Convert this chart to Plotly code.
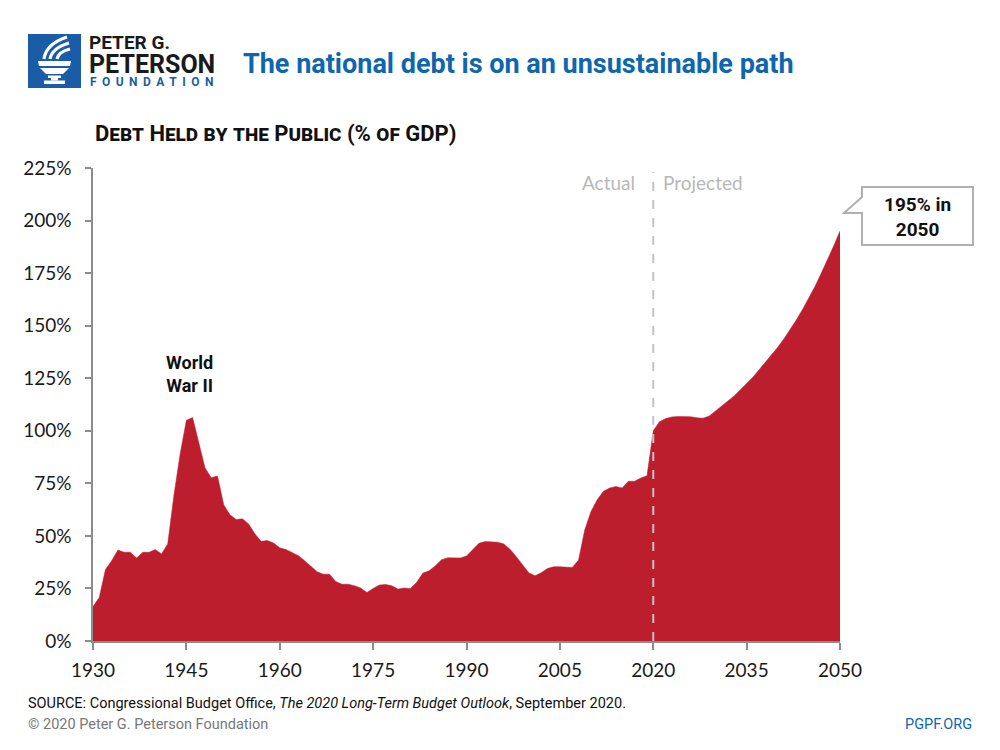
import plotly.graph_objects as go

# ---------------- data ----------------
years = list(range(1930, 2051))
debt_pct = [
    16.4, 20.7, 34.0, 38.2, 43.3, 42.2, 42.2, 39.5, 42.2, 42.2,   # 1930-1939
    43.5, 41.4, 46.2, 69.3, 89.0, 105.0, 106.3, 94.7, 82.3, 77.7,  # 1940-1949
    78.5, 64.8, 60.0, 57.8, 58.1, 55.7, 51.0, 47.4, 47.8, 46.6,    # 1950-1959
    44.3, 43.5, 42.2, 40.6, 38.2, 35.5, 33.0, 31.8, 31.8, 28.3,    # 1960-1969
    27.0, 27.0, 26.3, 25.2, 23.1, 25.0, 26.6, 26.9, 26.3, 24.7,    # 1970-1979
    25.2, 25.0, 27.9, 32.3, 33.4, 35.8, 38.7, 39.6, 39.6, 39.5,    # 1980-1989
    40.4, 43.6, 46.5, 47.3, 47.3, 47.0, 46.2, 43.6, 40.1, 36.1,    # 1990-1999
    32.5, 31.0, 32.5, 34.5, 35.3, 35.3, 35.0, 35.0, 38.5, 52.9,    # 2000-2009
    61.6, 67.2, 71.2, 72.8, 73.5, 72.8, 76.0, 76.0, 77.5, 78.6,    # 2010-2019
    100.0, 104.3, 105.8, 106.6, 106.8, 106.9, 106.7, 106.2, 106.0, 107.0,  # 2020-2029
    109.3, 111.6, 114.0, 116.6, 119.5, 122.5, 125.5, 129.0, 132.5, 136.0,  # 2030-2039
    139.7, 143.8, 148.2, 152.8, 157.8, 163.0, 168.8, 175.0, 181.2, 188.0,  # 2040-2049
    195.0,                                                          # 2050
]
x_ticks = [1930, 1945, 1960, 1975, 1990, 2005, 2020, 2035, 2050]
y_ticks = [0, 25, 50, 75, 100, 125, 150, 175, 200, 225]
y_tick_labels = [f"{v}%" for v in y_ticks]
split_year = 2020
callout_text = "195% in<br>2050"

# ---------------- geometry helpers (screen pixel -> paper) ----------------
L, R, T, B = 93, 840, 168, 641     # plot area on screen
OFF = 8                              # page body offset of the plot div
W, H = R - L, B - T


def px(x):
    return (x - L) / W


def py(y):
    return (B - y) / H


def path(cmds):
    out = []
    for c, pts in cmds:
        s = c
        for (x, y) in pts:
            s += f" {px(x):.5f},{py(y):.5f}"
        out.append(s)
    return " ".join(out)


RED = "#BD1E2E"
BLUE = "#0D66AE"
LOGO_BLUE = "#1A5DA6"

fig = go.Figure()
fig.add_trace(go.Scatter(
    x=years, y=debt_pct, mode="lines", fill="tozeroy",
    line=dict(color=RED, width=0.5), fillcolor=RED,
    hoverinfo="x+y", showlegend=False,
))

shapes = []
annotations = []

# Actual / projected divider
shapes.append(dict(type="line", xref="x", yref="y", x0=split_year, x1=split_year,
                   y0=0, y1=223, line=dict(color="#C4C4C4", width=2, dash="dash"),
                   layer="above"))
annotations.append(dict(xref="x", yref="paper", x=split_year, y=py(182), text="Actual",
                        xanchor="right", yanchor="middle", xshift=-16, showarrow=False,
                        font=dict(family="Lato", size=19, color="#B8B8B8")))
annotations.append(dict(xref="x", yref="paper", x=split_year, y=py(182), text="Projected",
                        xanchor="left", yanchor="middle", xshift=8, showarrow=False,
                        font=dict(family="Lato", size=19, color="#B8B8B8")))

# World War II label
annotations.append(dict(xref="paper", yref="paper", x=px(189), y=py(374),
                        text="World<br>War II", showarrow=False,
                        xanchor="center", yanchor="middle", align="center",
                        font=dict(family="Roboto", size=18, color="#111111", weight="bold")))

# Callout box
shapes.append(dict(type="path", xref="paper", yref="paper",
                   path=path([("M", [(862, 187)]), ("L", [(973, 187)]), ("L", [(973, 245)]),
                              ("L", [(862, 245)]), ("L", [(862, 213)]), ("L", [(844, 213)]),
                              ("L", [(862, 197)]), ("Z", [])]),
                   fillcolor="white", line=dict(color="#B0B0B0", width=2), layer="above"))
annotations.append(dict(xref="paper", yref="paper", x=px(917), y=py(217),
                        text=callout_text, showarrow=False, xanchor="center", yanchor="middle",
                        align="center",
                        font=dict(family="Roboto", size=19, color="#111111", weight="bold")))

# Axis title (small caps)
annotations.append(dict(xref="paper", yref="paper", x=px(93), y=py(133),
                        text="Debt Held by the Public (% of GDP)", showarrow=False,
                        xanchor="left", yanchor="middle",
                        font=dict(family="Roboto", size=22, color="#111111", weight="bold",
                                  variant="small-caps")))

# Title
annotations.append(dict(xref="paper", yref="paper", x=px(241), y=py(64),
                        text="The national debt is on an unsustainable path", showarrow=False,
                        xanchor="left", yanchor="middle",
                        font=dict(family="Roboto", size=27, color=BLUE, weight="bold")))

# Logo
shapes.append(dict(type="rect", xref="paper", yref="paper", x0=px(28), x1=px(81),
                   y0=py(88), y1=py(34), fillcolor=LOGO_BLUE, line=dict(width=0), layer="above"))
white = dict(fillcolor="white", line=dict(width=0), layer="above", type="path",
             xref="paper", yref="paper")
shapes.append(dict(white, path=path([("M", [(38, 61)]), ("L", [(71, 61)]), ("L", [(70, 66)]),
                                     ("L", [(39, 66)]), ("Z", [])])))
shapes.append(dict(white, path=path([("M", [(40, 68)]), ("L", [(69, 68)]), ("L", [(63, 74)]),
                                     ("L", [(46, 74)]), ("Z", [])])))
shapes.append(dict(white, path=path([("M", [(48, 75.5)]), ("L", [(61, 75.5)]), ("L", [(61, 78)]),
                                     ("L", [(48, 78)]), ("Z", [])])))
shapes.append(dict(white, path=path([("M", [(51, 78)]), ("L", [(58, 78)]), ("L", [(58, 80.5)]),
                                     ("L", [(51, 80.5)]), ("Z", [])])))
shapes.append(dict(white, path=path([("M", [(44, 80.5)]), ("L", [(65, 80.5)]), ("L", [(65, 84)]),
                                     ("L", [(44, 84)]), ("Z", [])])))
for (a, c, b) in [((44, 59), (46, 44), (67, 37)), ((50, 59), (52, 48), (69, 43)),
                  ((57, 59), (58, 52), (70, 49))]:
    shapes.append(dict(type="path", xref="paper", yref="paper", layer="above",
                       path=path([("M", [a]), ("Q", [c, b])]),
                       line=dict(color="white", width=3.2)))

annotations.append(dict(xref="paper", yref="paper", x=px(88), y=py(43), text="PETER G.",
                        showarrow=False, xanchor="left", yanchor="middle", borderpad=0,
                        font=dict(family="Roboto", size=19, color="#1A1A1A", weight="bold")))
annotations.append(dict(xref="paper", yref="paper", x=px(88), y=py(64.5), text="PETERSON",
                        showarrow=False, xanchor="left", yanchor="middle", borderpad=0,
                        font=dict(family="Roboto", size=25, color="#1A1A1A", weight="bold")))
annotations.append(dict(xref="paper", yref="paper", x=px(89), y=py(82),
                        text="\u2009 ".join("FOUNDATION"),
                        showarrow=False, xanchor="left", yanchor="middle", borderpad=0,
                        font=dict(family="Roboto", size=12, color=LOGO_BLUE, weight="bold")))

# Footer
annotations.append(dict(xref="paper", yref="paper", x=px(26), y=py(703),
                        text="SOURCE: Congressional Budget Office, <i>The 2020 Long-Term Budget Outlook</i>, September 2020.",
                        showarrow=False, xanchor="left", yanchor="middle",
                        font=dict(family="Roboto", size=14.5, color="#111111")))
annotations.append(dict(xref="paper", yref="paper", x=px(26), y=py(724),
                        text="© 2020 Peter G. Peterson Foundation",
                        showarrow=False, xanchor="left", yanchor="middle",
                        font=dict(family="Roboto", size=14.5, color="#777777")))
annotations.append(dict(xref="paper", yref="paper", x=px(974), y=py(724),
                        text="PGPF.ORG", showarrow=False, xanchor="right", yanchor="middle",
                        font=dict(family="Roboto", size=14.5, color=BLUE)))

fig.update_layout(
    width=1000, height=750,
    margin=dict(l=L - OFF, r=1000 - R + OFF, t=T - OFF, b=750 - B + OFF, pad=0),
    paper_bgcolor="white", plot_bgcolor="white",
    shapes=shapes, annotations=annotations,
    showlegend=False,
    xaxis=dict(range=[1930, 2050], tickvals=x_ticks, showgrid=False, zeroline=False,
               showline=True, linecolor="#8C8C8C", linewidth=1.5, ticks="outside",
               ticklen=7, tickcolor="#8C8C8C", tickwidth=1.5, ticklabelstandoff=4,
               tickfont=dict(family="Lato", size=19, color="#1A1A1A"), fixedrange=True),
    yaxis=dict(range=[0, 225], tickvals=y_ticks, ticktext=y_tick_labels, showgrid=False,
               zeroline=False, showline=True, linecolor="#8C8C8C", linewidth=1.5,
               ticks="outside", ticklen=6, tickcolor="#8C8C8C", tickwidth=1.5,
               ticklabelstandoff=10,
               tickfont=dict(family="Lato", size=19, color="#1A1A1A"), fixedrange=True),
)

fig.write_html("out.html")
